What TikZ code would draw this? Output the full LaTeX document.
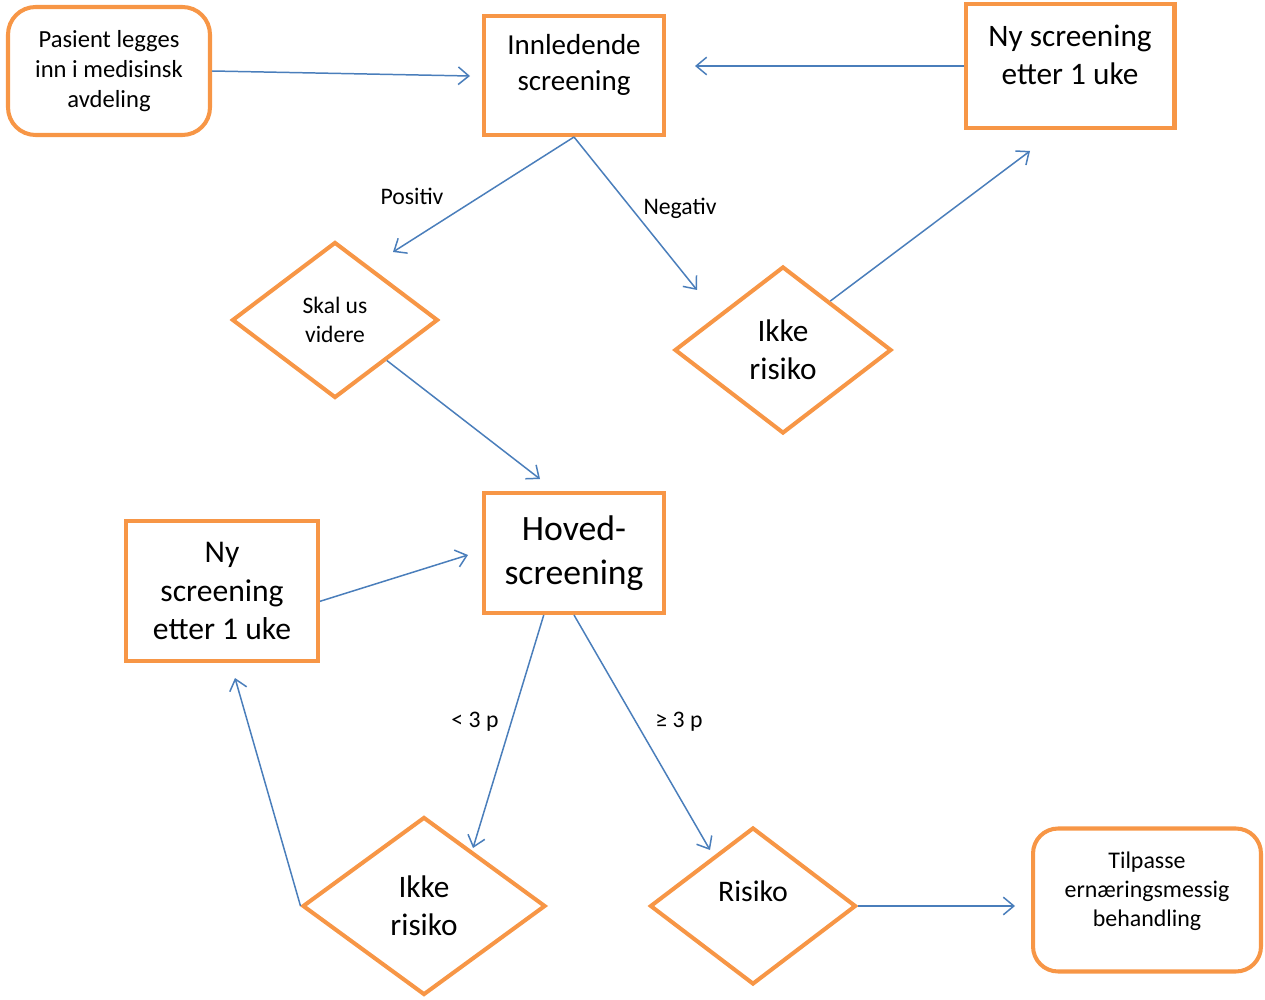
\documentclass[tikz,border=0pt]{standalone}
\usepackage{fontspec}
\setmainfont{Carlito}
\usetikzlibrary{shapes.geometric,arrows.meta}
\definecolor{boxorange}{HTML}{F79646}
\definecolor{linkblue}{HTML}{4A7EBB}
\tikzset{
	box/.style={draw=boxorange, line width=2.3pt, rectangle, inner sep=0pt, align=center},
	roundbox/.style={box, rounded corners=0.55cm},
	decision/.style={draw=boxorange, line width=2.3pt, diamond, inner sep=0pt, align=center},
	link/.style={draw=linkblue, line width=0.85pt, -{Straight Barb[length=6pt,width=10pt]}},
	linklabel/.style={font=\fontsize{13.5}{16.5}\selectfont}
}

\begin{document}
\begin{tikzpicture}[x=0.02cm, y=-0.02cm]
		%%%%% START %%%%%
		\useasboundingbox (0,0) rectangle (1265,1000);
		
		\node[roundbox, minimum width=4.04cm, minimum height=2.56cm, font=\fontsize{14}{17.3}\selectfont] (pasient) at (109,71) {Pasient legges\\inn i medisinsk\\avdeling};
		
		\node[box, minimum width=3.6cm, minimum height=2.38cm] (innledende) at (574,75.5) {};
		\node[align=center, font=\fontsize{16.5}{20.3}\selectfont] (innledendetxt) at (574,65) {Innledende\\screening};
		
		\node[box, minimum width=4.18cm, minimum height=2.48cm] (nyscreenA) at (1070,66) {};
		\node[align=center, font=\fontsize{17.8}{21.6}\selectfont] (nyscreenAtxt) at (1070,55) {Ny screening\\etter 1 uke};
		
		\node[decision, minimum width=4.12cm, minimum height=3.12cm, font=\fontsize{13.4}{16.4}\selectfont] (skal) at (335,320) {Skal us\\videre};
		\node[decision, minimum width=4.34cm, minimum height=3.34cm, font=\fontsize{17.8}{21.8}\selectfont] (ikkeA) at (783,350) {Ikke\\risiko};
		
		\node[box, minimum width=3.6cm, minimum height=2.4cm, font=\fontsize{20.3}{25}\selectfont] (hoved) at (574,553) {Hoved-\\screening};
		\node[box, minimum width=3.84cm, minimum height=2.8cm, font=\fontsize{18}{21.8}\selectfont] (nyscreenB) at (222,591) {Ny\\screening\\etter 1 uke};
		
		\node[decision, minimum width=4.86cm, minimum height=3.56cm, font=\fontsize{17.8}{21.8}\selectfont] (ikkeB) at (424,906) {Ikke\\risiko};
		\node[decision, minimum width=4.12cm, minimum height=3.14cm] (risiko) at (753,906) {};
		\node[font=\fontsize{17}{21}\selectfont] (risikotxt) at (753,891) {Risiko};
		
		\node[roundbox, rounded corners=0.5cm, minimum width=4.56cm, minimum height=2.86cm] (tilpasse) at (1147,900) {};
		\node[align=center, font=\fontsize{13.6}{16.5}\selectfont] (tilpassetxt) at (1147,891) {Tilpasse\\ernæringsmessig\\behandling};
		
		\coordinate (tipA) at (470,76);
		\coordinate (tipB) at (695,66);
		\coordinate (tipC) at (393,252);
		\coordinate (tipD) at (697,290);
		\coordinate (tipE) at (1030,151);
		\coordinate (tipF) at (540,479);
		\coordinate (tipG) at (468,555);
		\coordinate (tipH) at (473,848);
		\coordinate (tipI) at (710,850);
		\coordinate (tipJ) at (235,678);
		\coordinate (tipK) at (1015,906);
		
		\draw[link] (pasient.east) -- (tipA);
		\draw[link] (nyscreenA.west) -- (tipB);
		\draw[link] (innledende.south) -- (tipC);
		\draw[link] (innledende.south) -- (tipD);
		\draw[link] (ikkeA.46) -- (tipE);
		\draw[link] (skal.-38) -- (tipF);
		\draw[link] (nyscreenB.-6.5) -- (tipG);
		\draw[link] (hoved.-116) -- (tipH);
		\draw[link] (hoved.south) -- (tipI);
		\draw[link] (ikkeB.west) -- (tipJ);
		\draw[link] (risiko.east) -- (tipK);
		
		\node[linklabel] (positiv) at (412,196) {Positiv};
		\node[linklabel] (negativ) at (680,208) {Negativ};
		\node[linklabel] (underthree) at (475,722) {< 3 p};
		\node[linklabel] (overthree) at (679,722) {≥ 3 p};
		
		%%%%% END %%%%%
	\end{tikzpicture}
\end{document}
